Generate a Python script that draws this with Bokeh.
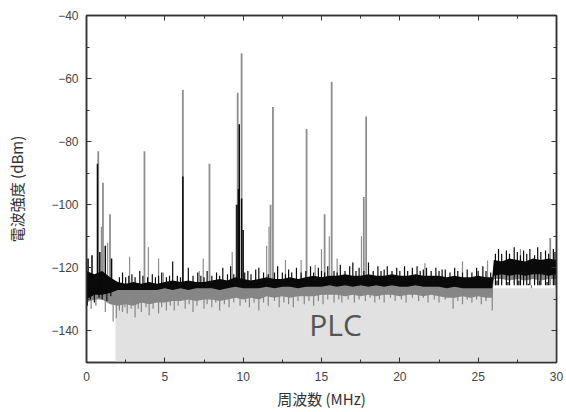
from bokeh.plotting import figure
from bokeh.models import Range1d, LinearAxis, FixedTicker, CustomJSTickFormatter, Label
from bokeh.embed import file_html
from bokeh.resources import INLINE

# ---------------- data ----------------
X_TICKS = [0, 5, 10, 15, 20, 25, 30]
X_MINOR = [2.5, 7.5, 12.5, 17.5, 22.5, 27.5]
Y_TICKS = [-140, -120, -100, -80, -60, -40]
Y_MINOR = [-150, -130, -110, -90, -70, -50]

PLC_BAND = [1.85, 30.0]     # MHz extent of the PLC region
PLC_LEVEL = -126.5          # dBm top of the PLC region

FREQ = [0.0, 0.5, 1.0, 1.5, 2.0, 2.5, 3.0, 3.5, 4.0, 4.5, 5.0, 5.5, 6.0, 6.5, 7.0, 7.5,
        8.0, 8.5, 9.0, 9.5, 10.0, 10.5, 11.0, 11.5, 12.0, 12.5, 13.0, 13.5, 14.0, 14.5,
        15.0, 15.5, 16.0, 16.5, 17.0, 17.5, 18.0, 18.5, 19.0, 19.5, 20.0, 20.5, 21.0,
        21.5, 22.0, 22.5, 23.0, 23.5, 24.0, 24.5, 25.0, 25.5, 25.9, 26.0, 26.5, 27.0,
        27.5, 28.0, 28.5, 29.0, 29.5, 30.0]

BLACK_LO = [-130, -128.5, -128.5, -128, -127, -127, -127, -127, -127, -127, -126.5, -127,
            -126.5, -127, -126.5, -126.5, -126.5, -127, -126.5, -126, -126.5, -126.5,
            -126.5, -126, -126.5, -126, -126, -126.5, -126, -126, -126, -125.5, -126,
            -125.5, -126, -125.5, -126, -125.5, -126, -125.5, -126, -126, -125.5, -126,
            -126, -126, -126.5, -126, -126.5, -126.5, -126.5, -126.5, -126.5, -122.5,
            -122, -122.5, -122, -122.5, -122, -122, -122.5, -122]
BLACK_HI = [-121, -122, -121, -123, -124.5, -125, -124.5, -125, -124.5, -125, -124.5,
            -124, -124.5, -124, -124.5, -124.5, -124, -123.5, -124, -123, -123.5, -124,
            -123.5, -123, -123.5, -123.5, -123, -123.5, -123, -122.5, -123, -122.5,
            -122.5, -122, -122.5, -122.5, -122, -122.5, -122.5, -122, -122.5, -122.5,
            -122, -122.5, -122.5, -122.5, -123, -122.5, -123, -123, -122.5, -123, -123,
            -117.5, -118, -117, -117.5, -118, -117, -117.5, -117, -117.5]
GRAY_LO = [-131, -130, -130, -131.5, -132, -131.5, -132, -131, -131.5, -131, -131,
           -130.5, -130.5, -130, -130.5, -130, -130, -130.5, -130, -129.5, -130, -129.5,
           -130, -129, -129.5, -129, -129.5, -129, -129, -129, -128.5, -128.5, -128.5,
           -129, -128.5, -129, -128.5, -129, -128.5, -128.5, -129, -128.5, -128.5, -129,
           -128.5, -129, -129.5, -129.5, -129, -129.5, -129, -129.5, -129.5, -123.5,
           -123.5, -124, -123.5, -124, -123.5, -124, -123.5, -123.5]
GRAY_HI = [-122, -123, -122, -124, -125, -125.5, -125, -125.5, -125, -125.5, -125, -125,
           -125.5, -125, -125.5, -125, -125, -125.5, -125, -124.5, -125, -125, -125,
           -124.5, -125, -124.5, -124.5, -125, -124.5, -124.5, -124.5, -124, -124.5,
           -124, -124.5, -124, -124.5, -124, -124.5, -124, -124.5, -124.5, -124, -124.5,
           -124.5, -124.5, -125, -124.5, -125, -125, -124.5, -125, -125, -118.5, -118,
           -118.5, -118, -118.5, -118, -118.5, -118, -118]

# tall emission lines (gray trace)
GRAY_PEAK_F = [0.75, 1.05, 1.5, 3.7, 6.15, 7.85, 9.65, 9.9, 11.75, 11.9, 14.05, 15.2,
               15.65, 17.7, 17.85, 29.6]
GRAY_PEAK_TOP = [-83, -93, -103, -83, -63.5, -87, -64.5, -52, -100, -69, -76, -103,
                 -61, -97.5, -72, -110.5]
# small gray lines
GRAY_SMALL_F = [0.95, 1.35, 2.75, 3.95, 4.6, 4.9, 7.2, 7.45, 9.3, 9.55, 11.5, 11.65,
                12.7, 13.7, 14.6, 15.0, 15.5, 16.0, 17.55, 21.6, 24.0, 25.6, 27.7]
GRAY_SMALL_TOP = [-107, -112, -116.5, -113.5, -117, -121.5, -121, -117, -115, -100,
                  -113, -107, -117.5, -117.5, -119, -114, -110, -117, -110, -118.5,
                  -118, -117.7, -114]
# gray downward spikes
GRAY_DOWN_F = [0.3, 0.6, 1.2, 1.7, 1.9, 2.1, 2.3, 2.45, 2.6, 2.85, 3.1, 3.3, 3.5, 3.8,
               4.0, 4.25, 4.6, 4.8, 5.1, 5.35, 5.6, 5.85, 6.3, 6.55, 6.8, 7.05, 7.5, 7.7,
               8.0, 8.25, 8.5, 8.8, 9.1, 9.4, 9.8, 10.15, 10.4, 10.7, 11.0, 11.3, 11.6,
               12.0, 12.3, 12.6, 12.9, 13.2, 13.5, 13.9, 14.2, 14.5, 14.8, 15.1, 15.4,
               15.8, 16.1, 16.3, 16.7, 17.1, 17.4, 17.8, 18.1, 18.4, 18.7, 19.0, 19.4,
               19.7, 20.1, 20.4, 20.8, 21.2, 21.5, 21.8, 22.2, 22.5, 22.9, 23.4, 23.7,
               24.0, 24.3, 24.6, 24.9, 25.2, 25.5, 25.9, 27.0, 28.4, 29.6]
GRAY_DOWN_BOT = [-133, -132, -134, -137, -136, -133.5, -134, -132.5, -134.5, -133,
                 -135.7, -133, -134, -132.5, -135, -133, -134.5, -132.5, -133.5, -132,
                 -133.5, -132, -133, -131.5, -134, -132, -133, -131.5, -132.5, -131,
                 -133.5, -131.5, -132.5, -131, -132, -131, -132.5, -131, -133.5, -131,
                 -132, -130.5, -132.5, -131, -131.5, -132.5, -130.5, -131.5, -130.5,
                 -132, -130.5, -131.5, -130, -131, -130, -131, -130, -131, -130, -130.5,
                 -129.5, -131, -130, -131, -129.5, -130.5, -130, -131, -129.5, -130.5,
                 -129.5, -131, -130, -131, -130, -133, -130.5, -131.5, -130, -131, -130,
                 -131.5, -130.5, -133.5, -125, -126.5, -125.5]

# black trace lines
BLACK_PEAK_F = [0.1, 0.35, 0.7, 0.85, 1.2, 1.6, 6.15, 9.6, 9.7, 9.75, 9.9, 10.0]
BLACK_PEAK_TOP = [-117, -116, -87, -115, -113, -117, -91, -100, -95, -74.5, -98, -108]
BLACK_SMALL_F = [2.1, 2.3, 2.5, 2.7, 2.9, 3.1, 3.4, 3.6, 3.9, 4.2, 4.4, 4.6, 4.8, 5.1,
                 5.3, 5.5, 5.8, 6.0, 6.5, 6.8, 7.1, 7.3, 7.5, 7.7, 8.0, 8.3, 8.5, 8.7,
                 9.0, 9.2, 9.4, 10.1, 10.3, 10.5, 10.8, 11.0, 11.3, 11.6, 12.0, 12.2,
                 12.5, 12.7, 12.9, 13.1, 13.4, 13.7, 14.0, 14.3, 14.5, 14.8, 15.0, 15.2,
                 15.4, 15.8, 16.0, 16.2, 16.5, 16.8, 17.0, 17.2, 17.4, 17.7, 18.0, 18.3,
                 18.6, 18.8, 19.0, 19.2, 19.5, 19.8, 20.0, 20.3, 20.5, 20.8, 21.1, 21.3,
                 21.5, 21.7, 22.0, 22.3, 22.5, 22.7, 22.9, 23.2, 23.5, 23.7, 24.0, 24.3,
                 24.6, 24.9, 25.0, 25.3, 25.5, 25.8, 26.1, 26.3, 26.5, 26.8, 27.0, 27.3,
                 27.5, 27.7, 27.9, 28.1, 28.3, 28.6, 28.8, 29.0, 29.3, 29.5, 29.8, 29.9]
BLACK_SMALL_TOP = [-123, -121.5, -123, -122.5, -122, -123, -121, -122.5, -123, -122,
                   -123, -122.5, -121.5, -123, -122.5, -118, -122.5, -123, -120, -122.5,
                   -121.5, -122.5, -123, -121, -122.5, -121.5, -122.5, -120, -122,
                   -119.5, -122, -121.5, -121, -122, -120.5, -120, -121.5, -122, -121.5,
                   -119.5, -121.5, -122, -120.5, -121.5, -120, -121.5, -121, -119.5,
                   -121.5, -120, -121, -121.5, -119.5, -121, -121.5, -119, -121,
                   -119.5, -118.3, -121, -120, -121, -118.3, -121, -119.5, -121, -120.5,
                   -119.5, -121, -120, -121, -119.5, -121, -120, -119.5, -121, -120.5,
                   -120, -121, -120, -121, -120.5, -120.5, -121.5, -120, -121, -121.5,
                   -120.5, -121.5, -120, -121, -119.5, -121, -121.5, -115.5, -114,
                   -115.5, -114.5, -115.5, -113.5, -115, -116, -114.5, -115.5, -114,
                   -116, -113.5, -115, -114.5, -115.5, -114, -115]
BLACK_DOWN_F = [0.05, 0.25, 0.5, 0.8, 1.0, 1.3, 1.55, 26.2, 26.9, 27.6, 28.2, 28.9,
                29.4]
BLACK_DOWN_BOT = [-132, -130, -131, -129.5, -130, -130.5, -129, -124, -124.5, -124,
                  -125, -124, -124.5]

PLC_LABEL = ("PLC", 15.9, -138)

# ---------------- figure ----------------
p = figure(width=566, height=412, x_range=Range1d(0, 30), y_range=Range1d(-150, -40),
           output_backend="svg", toolbar_location=None,
           min_border_left=86, min_border_right=10, min_border_top=15, min_border_bottom=50)
p.grid.visible = False
p.outline_line_color = "#333333"
p.outline_line_width = 1.5
p.background_fill_color = "white"
p.border_fill_color = "white"

# PLC region
p.quad(left=[PLC_BAND[0]], right=[PLC_BAND[1]], bottom=[-150], top=[PLC_LEVEL],
       fill_color="#e1e1e1", line_color=None)

GRAY = "#868686"
GRAY_LINE = "#8e8e8e"
BLACK = "#0a0a0a"
BASE = -125.5

# gray trace
p.varea(x=FREQ, y1=GRAY_LO, y2=GRAY_HI, fill_color=GRAY)
p.segment(x0=GRAY_DOWN_F, y0=[BASE] * len(GRAY_DOWN_F), x1=GRAY_DOWN_F, y1=GRAY_DOWN_BOT,
          line_color=GRAY, line_width=1.2)
p.segment(x0=GRAY_SMALL_F, y0=[BASE] * len(GRAY_SMALL_F), x1=GRAY_SMALL_F, y1=GRAY_SMALL_TOP,
          line_color=GRAY_LINE, line_width=1.2)
p.segment(x0=GRAY_PEAK_F, y0=[BASE] * len(GRAY_PEAK_F), x1=GRAY_PEAK_F, y1=GRAY_PEAK_TOP,
          line_color=GRAY_LINE, line_width=1.8)

# black trace
p.varea(x=FREQ, y1=BLACK_LO, y2=BLACK_HI, fill_color=BLACK)
p.segment(x0=BLACK_SMALL_F, y0=[BASE] * len(BLACK_SMALL_F), x1=BLACK_SMALL_F,
          y1=BLACK_SMALL_TOP, line_color=BLACK, line_width=1.2)
p.segment(x0=BLACK_DOWN_F, y0=[BASE] * len(BLACK_DOWN_F), x1=BLACK_DOWN_F,
          y1=BLACK_DOWN_BOT, line_color=BLACK, line_width=1.2)
p.segment(x0=BLACK_PEAK_F, y0=[BASE] * len(BLACK_PEAK_F), x1=BLACK_PEAK_F,
          y1=BLACK_PEAK_TOP, line_color=BLACK, line_width=1.5)

p.add_layout(Label(x=PLC_LABEL[1], y=PLC_LABEL[2], text=PLC_LABEL[0], text_align="center",
                   text_baseline="middle", text_font="Open Sans", text_font_size="30px",
                   text_color="#555555"))

# ---------------- axes ----------------
def style_axis(ax, ticks, minor):
    ax.ticker = FixedTicker(ticks=ticks, minor_ticks=minor)
    ax.major_tick_in = 5
    ax.major_tick_out = 0
    ax.minor_tick_in = 3
    ax.minor_tick_out = 0
    ax.axis_line_color = "#333333"
    ax.axis_line_width = 1.5
    ax.major_tick_line_color = "#333333"
    ax.minor_tick_line_color = "#333333"
    ax.major_label_text_font = "Liberation Sans"
    ax.major_label_text_font_size = "12px"
    ax.major_label_text_color = "#444444"
    ax.axis_label_text_font = "Noto Sans CJK JP"
    ax.axis_label_text_font_size = "15px"
    ax.axis_label_text_font_style = "normal"
    ax.axis_label_text_color = "#333333"

style_axis(p.xaxis[0], X_TICKS, X_MINOR)
style_axis(p.yaxis[0], Y_TICKS, Y_MINOR)
p.xaxis[0].axis_label = "周波数 (MHz)"
p.yaxis[0].axis_label = "電波強度 (dBm)"
p.xaxis[0].major_label_standoff = 9
p.xaxis[0].axis_label_standoff = 4
p.yaxis[0].major_label_standoff = 8
p.yaxis[0].axis_label_standoff = 21

blank = CustomJSTickFormatter(code="return ''")
top = LinearAxis(formatter=blank)
right = LinearAxis(formatter=blank)
style_axis(top, X_TICKS, X_MINOR)
style_axis(right, Y_TICKS, Y_MINOR)
for ax in (top, right):
    ax.major_label_standoff = 0
    ax.major_label_text_font_size = "1px"
p.add_layout(top, "above")
p.add_layout(right, "right")

open("out.html", "w").write(file_html(p, INLINE))
